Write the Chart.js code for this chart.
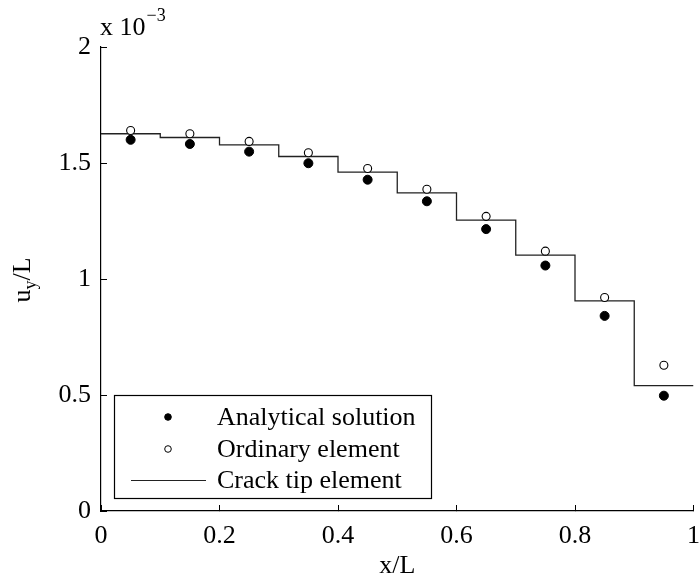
<!DOCTYPE html>
<html>
<head>
<meta charset="utf-8">
<script src="https://cdn.jsdelivr.net/npm/chart.js@4/dist/chart.umd.min.js"></script>
<style>
  html, body { margin: 0; padding: 0; background: #fff; }
  #wrap { width: 699px; height: 579px; }
</style>
</head>
<body>
<div id="wrap"><canvas id="myChart" width="699" height="579"></canvas></div>
<script>
// values in units of 10^-3
let pointX = [0.05, 0.15, 0.25, 0.35, 0.45, 0.55, 0.65, 0.75, 0.85, 0.95]
let analytical = [1.600, 1.582, 1.549, 1.499, 1.428, 1.335, 1.215, 1.058, 0.841, 0.497]
let ordinary = [1.640, 1.626, 1.593, 1.544, 1.476, 1.387, 1.270, 1.120, 0.920, 0.628]

// crack tip element: constant value on each element, edges at stepX
let stepX = [0, 0.1, 0.2, 0.3, 0.4, 0.5, 0.6, 0.7, 0.8, 0.9, 1.0]
let stepY = [1.626, 1.610, 1.578, 1.528, 1.461, 1.371, 1.254, 1.103, 0.906, 0.540]

let xTicks = [0, 0.2, 0.4, 0.6, 0.8, 1]
let yTicks = [0, 0.5, 1, 1.5, 2]

let serif = '"Liberation Serif", "DejaVu Serif", serif'
let fontSize = 26
let smallSize = 18

function pairs(xs, ys){
    return ys.map((y, i) => ({x: xs[i], y: y}))
}

// stepped line needs a final point to close the last element
let stepData = pairs(stepX, stepY)
stepData.push({x: stepX[stepX.length - 1], y: stepY[stepY.length - 1]})

// y label with subscript and the x 10^-3 factor
let annotations = {
    id: 'annotations',
    afterDraw(chart){
        let ctx = chart.ctx
        let area = chart.chartArea
        ctx.save()
        ctx.fillStyle = '#000'
        ctx.textBaseline = 'alphabetic'
        ctx.textAlign = 'left'

        // x 10^-3
        ctx.font = fontSize + 'px ' + serif
        ctx.fillText('x 10', area.left - 1, 35)
        let w = ctx.measureText('x 10').width
        ctx.font = smallSize + 'px ' + serif
        ctx.fillText('\u22123', area.left + w, 21)

        // u_y/L rotated
        ctx.translate(30, 280)
        ctx.rotate(-Math.PI / 2)
        ctx.font = fontSize + 'px ' + serif
        let wu = ctx.measureText('u').width
        let wl = ctx.measureText('/L').width
        ctx.font = smallSize + 'px ' + serif
        let wy = ctx.measureText('y').width
        let x0 = -(wu + wy + wl) / 2
        ctx.font = fontSize + 'px ' + serif
        ctx.fillText('u', x0, 0)
        ctx.fillText('/L', x0 + wu + wy, 0)
        ctx.font = smallSize + 'px ' + serif
        ctx.fillText('y', x0 + wu, 6)
        ctx.restore()
    }
}

// boxed legend in the lower left of the plot
let boxLegend = {
    id: 'boxLegend',
    afterDraw(chart){
        let ctx = chart.ctx
        let ds = chart.data.datasets
        let left = 114, top = 395, right = 431, bottom = 498
        ctx.save()
        ctx.fillStyle = '#fff'
        ctx.fillRect(left, top, right - left, bottom - top)
        ctx.strokeStyle = '#000'
        ctx.lineWidth = 1.2
        ctx.strokeRect(left + 0.5, top + 0.5, right - left, bottom - top)

        let rows = [417, 449, 480]
        ctx.font = fontSize + 'px ' + serif
        ctx.textBaseline = 'middle'
        ctx.textAlign = 'left'
        ds.forEach((d, i) => {
            let y = rows[i]
            if (d.showLine) {
                ctx.strokeStyle = '#222'
                ctx.lineWidth = 1.2
                ctx.beginPath()
                ctx.moveTo(131, y + 0.5)
                ctx.lineTo(206, y + 0.5)
                ctx.stroke()
            } else {
                ctx.beginPath()
                ctx.arc(168, y, 3.3, 0, Math.PI * 2)
                ctx.fillStyle = d.backgroundColor
                ctx.fill()
                ctx.strokeStyle = '#000'
                ctx.lineWidth = 1
                ctx.stroke()
            }
            ctx.fillStyle = '#000'
            ctx.fillText(d.label, 217, y + 1)
        })
        ctx.restore()
    }
}

new Chart('myChart', {
    type: 'scatter',
    data: {
        datasets: [{
            label: 'Analytical solution',
            data: pairs(pointX, analytical),
            backgroundColor: '#000',
            borderColor: '#000',
            pointRadius: 4.5,
            borderWidth: 1
        }, {
            label: 'Ordinary element',
            data: pairs(pointX, ordinary),
            backgroundColor: '#fff',
            borderColor: '#000',
            pointRadius: 4,
            borderWidth: 1.1
        }, {
            label: 'Crack tip element',
            type: 'line',
            data: stepData,
            stepped: 'before',
            showLine: true,
            borderColor: '#222',
            borderWidth: 1.3,
            pointRadius: 0,
            fill: false
        }]
    },
    options: {
        responsive: false,
        animation: false,
        layout: { padding: { top: 47, right: 0, left: 0, bottom: 0 } },
        plugins: {
            legend: { display: false },
            tooltip: { enabled: false }
        },
        scales: {
            x: {
                type: 'linear',
                min: 0,
                max: 1,
                afterBuildTicks: s => { s.ticks = xTicks.map(v => ({value: v})) },
                afterFit: s => { s.height = 68; s.paddingLeft = 0; s.paddingRight = 3 },
                ticks: {
                    color: '#000',
                    font: { family: serif, size: fontSize },
                    padding: 16,
                    maxRotation: 0,
                    callback: v => String(v)
                },
                grid: { drawOnChartArea: false, drawTicks: true, tickLength: -6, color: '#000', lineWidth: 1 },
                border: { color: '#000', width: 1.2 },
                title: {
                    display: true,
                    text: 'x/L',
                    color: '#000',
                    font: { family: serif, size: fontSize },
                    padding: { top: 0, bottom: -3 }
                }
            },
            y: {
                type: 'linear',
                min: 0,
                max: 2,
                afterBuildTicks: s => { s.ticks = yTicks.map(v => ({value: v})) },
                afterFit: s => { s.width = 101 },
                ticks: {
                    color: '#000',
                    font: { family: serif, size: fontSize },
                    padding: 16,
                    callback: v => String(v)
                },
                grid: { drawOnChartArea: false, drawTicks: true, tickLength: -6, color: '#000', lineWidth: 1 },
                border: { color: '#000', width: 1.2 }
            }
        }
    },
    plugins: [annotations, boxLegend]
})
</script>
</body>
</html>
